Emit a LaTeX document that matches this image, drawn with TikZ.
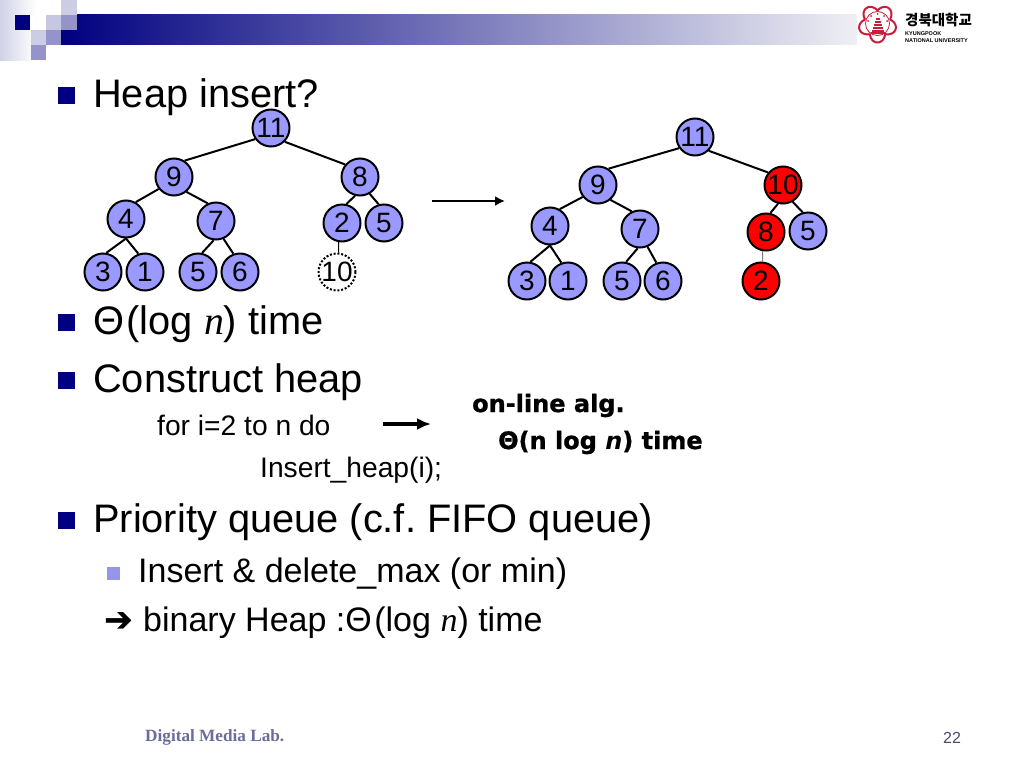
\documentclass[tikz,border=0pt]{standalone}
\usepackage{fontspec}
\setmainfont{Liberation Sans}
\newfontfamily\timesfont{Liberation Serif}
\newfontfamily\blackfont[BoldFeatures={FakeBold=1}]{DejaVu Sans}
\newfontfamily\hangulfont{Noto Sans CJK KR}
\usetikzlibrary{arrows.meta}
\usetikzlibrary{positioning}
\definecolor{navyblue}{RGB}{0,0,128}
\definecolor{barmid}{RGB}{165,165,192}
\definecolor{barend}{RGB}{240,240,245}
\definecolor{heapblue}{RGB}{153,153,255}
\definecolor{logored}{RGB}{200,30,60}
\definecolor{footblue}{RGB}{107,107,156}
\tikzset{
    heapnode/.style={circle,draw,line width=2pt,fill=heapblue,minimum size=37pt,inner sep=0pt,font=\fontsize{28}{28}\selectfont},
    hotnode/.style={heapnode,fill=red},
    newnode/.style={heapnode,fill=none,dash pattern=on 2pt off 1.8pt},
    edge/.style={line width=2pt},
    thinedge/.style={line width=1pt},
    lefttext/.style={anchor=base west,inner sep=0pt},
    mainitem/.style={lefttext,font=\fontsize{39.8}{40}\selectfont},
    subitem/.style={lefttext,font=\fontsize{34}{34}\selectfont},
    codeitem/.style={lefttext,font=\fontsize{28.2}{28}\selectfont},
    blackitem/.style={lefttext,font=\blackfont\bfseries\fontsize{24}{24}\selectfont},
    bigbullet/.style={fill=navyblue},
    smallbullet/.style={fill=heapblue!85!gray}
}
\begin{document}
\frenchspacing
\begin{tikzpicture}[x=1pt,y=-1pt]
    \useasboundingbox (0,0) rectangle (1024,768);
    \fill[white] (0,0) rectangle (1024,768);

    \shade[left color=navyblue!18,right color=white] (0,0) rectangle (36,60);
    \shade[left color=navyblue,middle color=barmid,right color=barend] (61,15) rectangle (860,45);
    \fill[white] (30,15) rectangle (46,30);
    \fill[navyblue] (15,15) rectangle (30,30);
    \fill[navyblue!22] (46,15) rectangle (61,30);
    \fill[navyblue!42] (61,15) rectangle (77,30);
    \fill[navyblue!20] (61,0) rectangle (77,15);
    \fill[navyblue!20] (31,30) rectangle (46,45);
    \fill[navyblue!42] (46,30) rectangle (61,45);
    \fill[navyblue!42] (31,45) rectangle (46,60);

    \fill[white] (857,0) rectangle (1024,60);
    \draw[logored,line width=2pt,smooth cycle] plot[domain=0:356,samples=72] ({877.5+(13+6*abs(sin(2.5*\x)))*cos(\x+90)},{23.5-(13+6*abs(sin(2.5*\x)))*sin(\x+90)});
    \draw[logored,line width=0.8pt] (877.5,23.5) circle (12);
    \foreach \ypos/\wid in {19/2,22/3,25/4,28/5,31/6,33/7}
        \draw[logored,line width=1.1pt] (877.5-\wid,\ypos) -- (877.5+\wid,\ypos);
    \foreach \xpos/\ypos in {877.5/14,871/16,884/16,868/21,887/21}
        \fill[logored] (\xpos,\ypos) circle (1);
    \node[lefttext,font=\hangulfont\bfseries\fontsize{14.5}{14.5}\selectfont] (logoname) at (905,26) {경북대학교};
    \node[lefttext,font=\bfseries\fontsize{5.5}{5.5}\selectfont] (logoup) at (905,36) {KYUNGPOOK};
    \node[lefttext,font=\bfseries\fontsize{5.5}{5.5}\selectfont] (logodown) at (905,43) {NATIONAL UNIVERSITY};

    \fill[bigbullet] (58,87) rectangle (75,104);
    \fill[bigbullet] (58,314) rectangle (75,331);
    \fill[bigbullet] (58,372) rectangle (75,389);
    \fill[bigbullet] (58,512) rectangle (75,529);
    \fill[smallbullet] (107,567) rectangle (120,580);

    \node[mainitem] (heaptitle) at (93,107) {Heap insert?};
    \node[mainitem] (logtime) at (93,334) {Θ\kern2.5pt(log {\timesfont\itshape n}) time};
    \node[mainitem] (construct) at (93,392) {Construct heap};
    \node[mainitem] (priority) at (93,532) {Priority queue (c.f. FIFO queue)};
    \node[subitem] (insertdel) at (138,582) {Insert \& delete\_max (or min)};
    \node[lefttext,font=\blackfont\bfseries\fontsize{34}{34}\selectfont] (arrowsign) at (104,631) {➔};
    \node[subitem] (binary) at (143,631) {binary Heap :Θ\kern2.5pt(log {\timesfont\itshape n}) time};
    \node[codeitem] (forloop) at (157,435) {for i=2 to n do};
    \node[codeitem] (insertcall) at (260,477) {Insert\_heap(i);};
    \node[blackitem] (online) at (472,412) {on-line alg.};
    \node[blackitem] (nlogn) at (498,449) {Θ(n log {\itshape n}) time};
    \node[lefttext,text=footblue,font=\timesfont\bfseries\fontsize{17.2}{17}\selectfont] (footer) at (145,741) {Digital Media Lab.};
    \node[lefttext,text=footblue!70!black,font=\fontsize{16}{16}\selectfont] (pagenum) at (943,743) {22};

    \node[heapnode] (a11) at (271,128) {11};
    \node[heapnode] (a9) at (174,177) {9};
    \node[heapnode] (a8) at (360,177) {8};
    \node[heapnode] (a4) at (126,219) {4};
    \node[heapnode] (a7) at (216,221) {7};
    \node[heapnode] (a2) at (342,223) {2};
    \node[heapnode] (a5) at (384,223) {5};
    \node[heapnode] (a3) at (103,272) {3};
    \node[heapnode] (a1) at (145,272) {1};
    \node[heapnode] (a5b) at (198,272) {5};
    \node[heapnode] (a6) at (240,272) {6};
    \node[newnode] (a10) at (337,272) {10};
    \draw[edge] (a11.215) -- (a9.57);
    \draw[edge] (a11.-45) -- (a8.140);
    \draw[edge] (a9.218) -- (a4.60);
    \draw[edge] (a9.-50) -- (a7.115);
    \draw[edge] (a8.255) -- (a2.77);
    \draw[edge] (a8.-60) -- (a5.106);
    \draw[edge] (a4.south) -- (a3.80);
    \draw[edge] (a4.south) -- (a1.110);
    \draw[edge] (a7.263) -- (a5b.78);
    \draw[edge] (a7.-67) -- (a6.110);
    \draw[thinedge] (a2.-100) -- (a10.85);

    \coordinate (arrowastart) at (432,201);
    \coordinate (arrowaend) at (505,201);
    \draw[-{Latex[length=10pt,width=10pt]},line width=2.4pt] (arrowastart) -- (arrowaend);
    \coordinate (arrowbstart) at (383,424);
    \coordinate (arrowbend) at (431,424);
    \draw[-{Latex[length=14pt,width=12pt]},line width=3.2pt] (arrowbstart) -- (arrowbend);

    \node[heapnode] (b11) at (695,137) {11};
    \node[heapnode] (b9) at (598,185) {9};
    \node[hotnode] (b10) at (783,185) {10};
    \node[heapnode] (b4) at (550,226) {4};
    \node[heapnode] (b7) at (640,229) {7};
    \node[hotnode] (b8) at (766,232) {8};
    \node[heapnode] (b5) at (808,231) {5};
    \node[heapnode] (b3) at (527,281) {3};
    \node[heapnode] (b1) at (568,281) {1};
    \node[heapnode] (b5b) at (622,281) {5};
    \node[heapnode] (b6) at (663,281) {6};
    \node[hotnode] (b2) at (761,281) {2};
    \draw[edge] (b11.215) -- (b9.57);
    \draw[edge] (b11.-45) -- (b10.140);
    \draw[edge] (b9.218) -- (b4.60);
    \draw[edge] (b9.-50) -- (b7.115);
    \draw[edge] (b10.255) -- (b8.77);
    \draw[edge] (b10.-60) -- (b5.106);
    \draw[edge] (b4.south) -- (b3.80);
    \draw[edge] (b4.south) -- (b1.110);
    \draw[edge] (b7.263) -- (b5b.78);
    \draw[edge] (b7.-67) -- (b6.110);
    \draw[thinedge,gray] (b8.-100) -- (b2.85);
\end{tikzpicture}
\end{document}
